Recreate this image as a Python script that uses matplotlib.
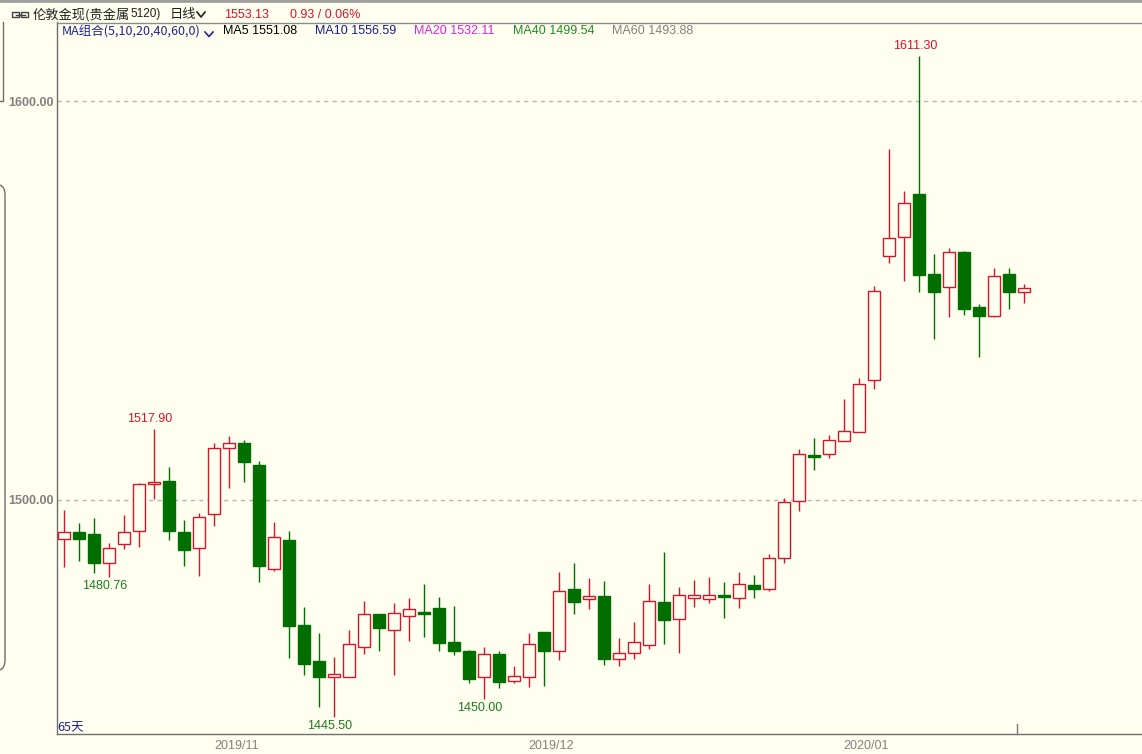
import matplotlib
matplotlib.use("Agg")
import matplotlib.pyplot as plt
from matplotlib.patches import Rectangle, PathPatch
from matplotlib.path import Path
from matplotlib.lines import Line2D

# ---------------- data ----------------
opens = [1490.2, 1491.9, 1491.6, 1484.3, 1488.9, 1492.2, 1503.9, 1504.8, 1491.9, 1487.9,
         1496.4, 1513.0, 1514.2, 1508.8, 1482.8, 1490.0, 1468.7, 1459.7, 1455.7, 1455.7,
         1463.2, 1471.4, 1467.3, 1470.9, 1471.9, 1472.9, 1464.4, 1462.2, 1455.6, 1461.3,
         1454.6, 1455.6, 1466.9, 1462.2, 1477.7, 1475.1, 1475.9, 1460.1, 1461.7, 1463.7,
         1474.4, 1470.1, 1475.5, 1475.3, 1476.1, 1475.5, 1478.6, 1477.8, 1485.4, 1499.7,
         1511.2, 1511.5, 1514.7, 1517.1, 1530.1, 1561.1, 1565.8, 1576.7, 1556.6, 1553.3,
         1562.2, 1548.4, 1546.2, 1556.6, 1552.2]
highs = [1497.5, 1494.2, 1495.4, 1489.2, 1496.2, 1504.2, 1517.9, 1508.2, 1495.0, 1496.7,
         1514.2, 1516.0, 1515.0, 1509.8, 1494.4, 1492.2, 1473.1, 1466.6, 1460.6, 1467.4,
         1474.7, 1471.5, 1474.2, 1475.4, 1479.0, 1475.6, 1473.4, 1462.3, 1463.1, 1462.2,
         1458.4, 1466.6, 1467.0, 1481.9, 1484.1, 1480.5, 1479.7, 1465.4, 1469.4, 1479.0,
         1487.0, 1478.2, 1480.0, 1480.7, 1479.5, 1482.0, 1481.2, 1486.5, 1500.4, 1512.8,
         1515.5, 1516.3, 1525.3, 1530.6, 1553.6, 1588.0, 1577.4, 1611.3, 1561.7, 1563.2,
         1562.3, 1549.1, 1558.2, 1558.2, 1554.1]
lows = [1483.3, 1484.8, 1481.6, 1480.76, 1487.6, 1488.1, 1500.3, 1490.0, 1483.5, 1481.0,
        1493.6, 1503.1, 1504.4, 1479.5, 1482.3, 1460.5, 1456.1, 1448.0, 1445.5, 1455.6,
        1461.3, 1462.2, 1456.1, 1464.7, 1465.7, 1462.2, 1461.2, 1454.1, 1450.0, 1452.8,
        1454.2, 1453.1, 1453.5, 1459.8, 1471.4, 1472.8, 1458.7, 1458.5, 1460.1, 1462.7,
        1464.0, 1461.7, 1473.3, 1474.3, 1470.3, 1473.0, 1475.5, 1477.3, 1484.3, 1497.3,
        1507.4, 1510.6, 1514.7, 1517.0, 1527.7, 1559.5, 1555.0, 1552.2, 1540.3, 1545.8,
        1546.4, 1535.9, 1545.9, 1547.9, 1549.3]
closes = [1491.9, 1490.3, 1484.3, 1487.9, 1492.0, 1503.9, 1504.5, 1492.3, 1487.5, 1495.7,
          1513.0, 1514.2, 1509.6, 1483.5, 1490.7, 1468.5, 1459.0, 1455.7, 1456.3, 1463.8,
          1471.4, 1468.0, 1471.6, 1472.6, 1471.5, 1464.2, 1462.2, 1455.2, 1461.3, 1454.5,
          1455.8, 1463.8, 1462.2, 1477.2, 1474.5, 1475.9, 1460.2, 1461.6, 1464.3, 1474.7,
          1469.8, 1476.2, 1476.1, 1476.1, 1475.6, 1478.9, 1477.8, 1485.4, 1499.4, 1511.5,
          1510.9, 1515.0, 1517.3, 1529.0, 1552.3, 1565.6, 1574.4, 1556.5, 1552.2, 1562.2,
          1547.8, 1546.2, 1556.1, 1552.2, 1553.13]

month_labels = ["2019/11", "2019/12", "2020/01"]
month_pos = [11.5, 32.5, 53.5]
price_ticks = [1500.0, 1600.0]

# annotated extremes: (index, value, is_high)
marks = [(6, 1517.90, True), (3, 1480.76, False), (18, 1445.50, False),
         (28, 1450.00, False), (57, 1611.30, True)]

header_title = "伦敦金现(贵金属"
header_code = "5120)"
header_period = "日线"
last_price = "1553.13"
change_text = "0.93 / 0.06%"
ma_group = "MA组合(5,10,20,40,60,0)"
ma_names = ["MA5", "MA10", "MA20", "MA40", "MA60"]
ma_values = [1551.08, 1556.59, 1532.11, 1499.54, 1493.88]
days_text = "65天"

# ---------------- style ----------------
BG = "#FFFFF0"
RED = "#D7142A"
GREEN = "#006F00"
LABEL_GREEN = "#1F7A1F"
GRAY = "#808080"
NAVY = "#23238C"
ma_colors = ["#000000", "#1A1A8A", "#E020E0", "#238A23", "#808080"]
FONT = ["Noto Sans CJK SC", "DejaVu Sans"]
NUM = "Liberation Sans"
plt.rcParams["font.family"] = FONT

W, H = 1142, 754
fig = plt.figure(figsize=(W / 100, H / 100), dpi=100, facecolor=BG)


def fx(px):
    return px / W


def fy(py):
    return 1 - py / H


ax = fig.add_axes([fx(57), fy(734), 1 - fx(57), (734 - 22) / H])
ax.set_facecolor(BG)
ax.set_xlim(-0.467, 71.87)
ax.set_ylim(1441.35, 1619.8)

for s in ["top", "right"]:
    ax.spines[s].set_visible(False)
for s in ["left", "bottom"]:
    ax.spines[s].set_color("#6E6E6E")
    ax.spines[s].set_linewidth(1)

# grid
for p in price_ticks:
    ax.axhline(p, color="#B4B4B4", lw=1, ls=(0, (3, 3)), zorder=0)

ax.set_yticks(price_ticks)
ax.set_yticklabels([f"{p:.2f}" for p in price_ticks], color=GRAY,
                   fontsize=9, fontweight="bold", family=NUM)
ax.tick_params(axis="y", length=0, pad=2)
ax.set_xticks(month_pos)
ax.set_xticklabels(month_labels, color=GRAY, fontsize=9, family=NUM)
ax.tick_params(axis="x", length=0, pad=4)

# candles
bw = 0.8
for i, (o, h, l, c) in enumerate(zip(opens, highs, lows, closes)):
    up = c >= o
    col = RED if up else GREEN
    ax.vlines(i, l, h, color=col, lw=1, zorder=2)
    bot = min(o, c)
    ht = abs(c - o)
    rect = Rectangle((i - bw / 2, bot), bw, ht,
                     facecolor=BG if up else GREEN, edgecolor=col, lw=1, zorder=3)
    ax.add_patch(rect)

# extreme annotations
for idx, val, is_high in marks:
    ax.annotate(f"{val:.2f}", xy=(idx, val), xytext=(-4, 10 if is_high else -9),
                textcoords="offset pixels", ha="center", va="center",
                color=RED if is_high else LABEL_GREEN, fontsize=9,
                family=NUM, zorder=5)

ax.text(0.0, 0.0, days_text, transform=ax.transAxes, ha="left", va="bottom",
        color=NAVY, fontsize=9, family=FONT)

# ---------------- header / chrome ----------------
fig.add_artist(Line2D([0, 1], [fy(1.3), fy(1.3)], color="#A0A0A0", lw=2.7))
fig.add_artist(Line2D([fx(57), 1], [fy(22.5), fy(22.5)], color="#8A8A8A", lw=1))
# left panel border fragments
fig.add_artist(Line2D([fx(3), fx(3), fx(0)], [fy(22), fy(101), fy(101)],
                      color="#6E6E6E", lw=1))
verts = [(fx(0), fy(185)), (fx(5), fy(187)), (fx(5), fy(195)),
         (fx(5), fy(660)), (fx(5), fy(668)), (fx(0), fy(670))]
codes = [Path.MOVETO, Path.CURVE3, Path.CURVE3, Path.LINETO, Path.CURVE3, Path.CURVE3]
fig.add_artist(PathPatch(Path(verts, codes), transform=fig.transFigure,
                         facecolor="none", edgecolor="#6E6E6E", lw=1))
# little marker at bottom right
fig.add_artist(Line2D([fx(1017), fx(1017)], [fy(724), fy(734)], color="#7A7A7A", lw=1))

# link icon
for x0 in (12, 21):
    fig.add_artist(Rectangle((fx(x0), fy(17)), 7 / W, 5 / H, transform=fig.transFigure,
                             facecolor="none", edgecolor="#404040", lw=1))
fig.add_artist(Line2D([fx(16), fx(25)], [fy(14.5), fy(14.5)], color="#404040", lw=1))

ty = fy(14.5)
fig.text(fx(33), ty, header_title, ha="left", va="center", fontsize=9.5, color="#202020")
fig.text(fx(130), ty, header_code, ha="left", va="center", fontsize=8.5, color="#202020",
         family=NUM)
fig.text(fx(170), ty, header_period, ha="left", va="center", fontsize=9.5, color="#202020")
fig.add_artist(Line2D([fx(197), fx(201), fx(205)], [fy(12), fy(17), fy(12)],
                      color="#202020", lw=1.2))
fig.text(fx(224), ty, last_price, ha="left", va="center", fontsize=9, color=RED,
         family=NUM)
fig.text(fx(290), ty, change_text, ha="left", va="center", fontsize=9, color=RED,
         family=NUM)

my = fy(31.5)
fig.text(fx(62), my, ma_group, ha="left", va="center", fontsize=9, color=NAVY)
fig.add_artist(Line2D([fx(205), fx(209), fx(213)], [fy(32), fy(36.5), fy(32)],
                      color=NAVY, lw=1.2))
ma_x = [223, 315, 414, 513, 612]
for name, val, col, x in zip(ma_names, ma_values, ma_colors, ma_x):
    fig.text(fx(x), my, f"{name} {val:.2f}", ha="left", va="center", fontsize=9,
             color=col, family=NUM)

fig.savefig("out.png", dpi=100, facecolor=BG)
